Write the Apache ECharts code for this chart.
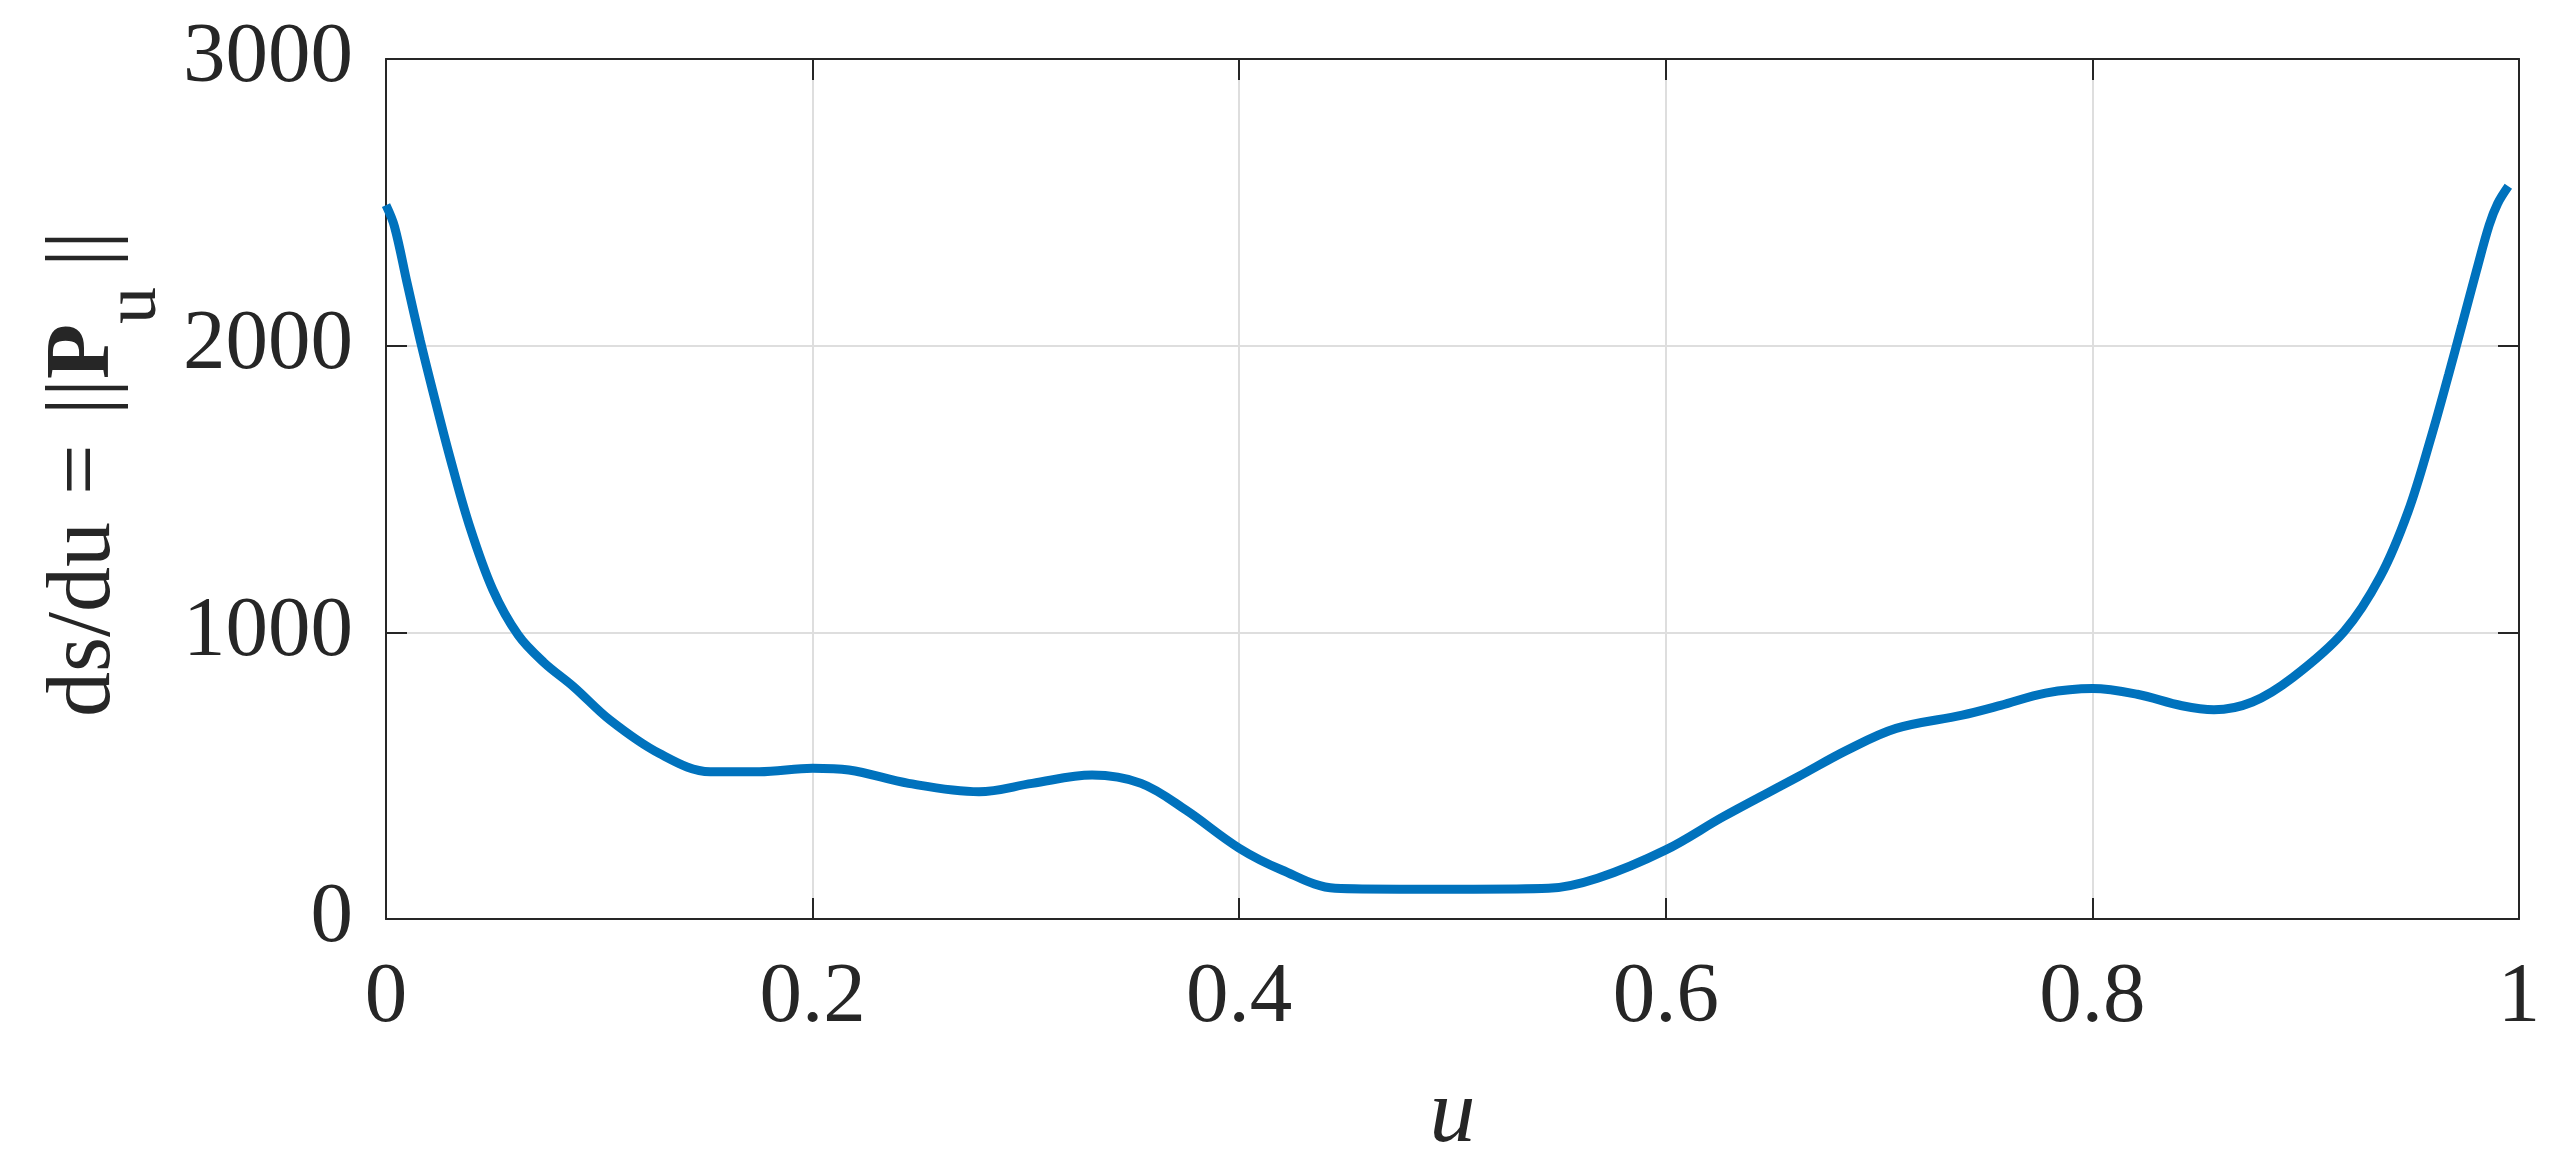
<!DOCTYPE html>
<html>
<head>
<meta charset="utf-8">
<title>ds/du</title>
<script src="https://cdn.jsdelivr.net/npm/echarts@6/dist/echarts.min.js"></script>
<style>
  html, body { margin: 0; padding: 0; background: #fff; }
  #main { width: 2553px; height: 1164px; }
</style>
</head>
<body>
<div id="main"></div>
<script>
// curve samples
const uVals = [0, 0.004, 0.010, 0.016, 0.022, 0.030, 0.039, 0.050, 0.062, 0.074, 0.088,
  0.105, 0.128, 0.152, 0.175, 0.200, 0.217, 0.245, 0.278, 0.303, 0.331, 0.354, 0.375,
  0.400, 0.420, 0.445, 0.475, 0.510, 0.545, 0.568, 0.600, 0.627, 0.662, 0.685, 0.708,
  0.739, 0.757, 0.778, 0.800, 0.821, 0.842, 0.857, 0.875, 0.894, 0.918, 0.935, 0.948,
  0.959, 0.967, 0.973, 0.980, 0.986, 0.990, 0.995];
const dsduVals = [2490, 2415, 2215, 2020, 1840, 1610, 1375, 1150, 990, 895, 810,
  694, 578, 514, 514, 526, 520, 473, 444, 473, 502, 473, 380,
  247, 171, 107, 104, 104, 107, 142, 241, 357, 496, 589, 665,
  711, 745, 788, 804, 784, 744, 730, 757, 843, 1003, 1195, 1421,
  1686, 1899, 2065, 2260, 2420, 2496, 2556];
const xTicks = [0, 0.2, 0.4, 0.6, 0.8, 1];
const yTicks = [0, 1000, 2000, 3000];

const font = '"Liberation Serif", "Times New Roman", serif';
const ink = '#262626';

const myChart = echarts.init(document.getElementById('main'));

const tickStyle = { show: true, inside: true, length: 21, lineStyle: { color: ink, width: 2 } };
const lineStyle = { show: true, onZero: false, lineStyle: { color: ink, width: 2 } };
const gridLines = { show: true, lineStyle: { color: '#dedede', width: 2 } };

myChart.setOption({
  animation: false,
  grid: {
    left: 386,
    right: 34,
    top: 59,
    bottom: 245,
    containLabel: false,
    outerBoundsMode: 'none'
  },
  xAxis: [
    {
      type: 'value',
      min: xTicks[0],
      max: xTicks[xTicks.length - 1],
      interval: 0.2,
      position: 'bottom',
      axisLine: lineStyle,
      axisTick: tickStyle,
      splitLine: gridLines,
      axisLabel: {
        color: ink,
        fontFamily: font,
        fontSize: 85,
        margin: 37,
        formatter(v) {
          return String(v);
        }
      },
      name: 'u',
      nameLocation: 'middle',
      nameGap: 152,
      nameTextStyle: {
        color: ink,
        fontFamily: font,
        fontSize: 92,
        fontStyle: 'italic'
      }
    },
    {
      type: 'value',
      min: xTicks[0],
      max: xTicks[xTicks.length - 1],
      interval: 0.2,
      position: 'top',
      axisLine: lineStyle,
      axisTick: tickStyle,
      splitLine: { show: false },
      axisLabel: { show: false }
    }
  ],
  yAxis: [
    {
      type: 'value',
      min: yTicks[0],
      max: yTicks[yTicks.length - 1],
      interval: 1000,
      position: 'left',
      axisLine: lineStyle,
      axisTick: tickStyle,
      splitLine: gridLines,
      axisLabel: {
        color: ink,
        fontFamily: font,
        fontSize: 85,
        margin: 33,
        formatter(v) {
          return String(v);
        }
      },
      name: '{a|ds/du}{s1|}{a|=}{s2|}{a|||}{b|P}{c|u}{s3|}{a|||}',
      nameLocation: 'middle',
      nameRotate: 90,
      nameGap: 224,
      nameTextStyle: {
        color: ink,
        fontFamily: font,
        fontSize: 90,
        padding: [0, 0, 0, 30],
        rich: {
          a: { fontFamily: font, fontSize: 90, color: ink, lineHeight: 100 },
          b: { fontFamily: font, fontSize: 90, color: ink, fontWeight: 'bold', lineHeight: 100 },
          c: { fontFamily: font, fontSize: 74, color: ink, lineHeight: 74, padding: [100, 0, 0, 0] },
          s1: { width: 27 },
          s2: { width: 29 },
          s3: { width: 20 }
        }
      }
    },
    {
      type: 'value',
      min: yTicks[0],
      max: yTicks[yTicks.length - 1],
      interval: 1000,
      position: 'right',
      axisLine: lineStyle,
      axisTick: tickStyle,
      splitLine: { show: false },
      axisLabel: { show: false }
    }
  ],
  series: [
    {
      name: 'ds/du',
      type: 'line',
      xAxisIndex: 0,
      yAxisIndex: 0,
      showSymbol: false,
      smooth: 0.35,
      lineStyle: { color: '#0072BD', width: 9 },
      data: uVals.map((u, i) => [u, dsduVals[i]])
    }
  ]
});
</script>
</body>
</html>
